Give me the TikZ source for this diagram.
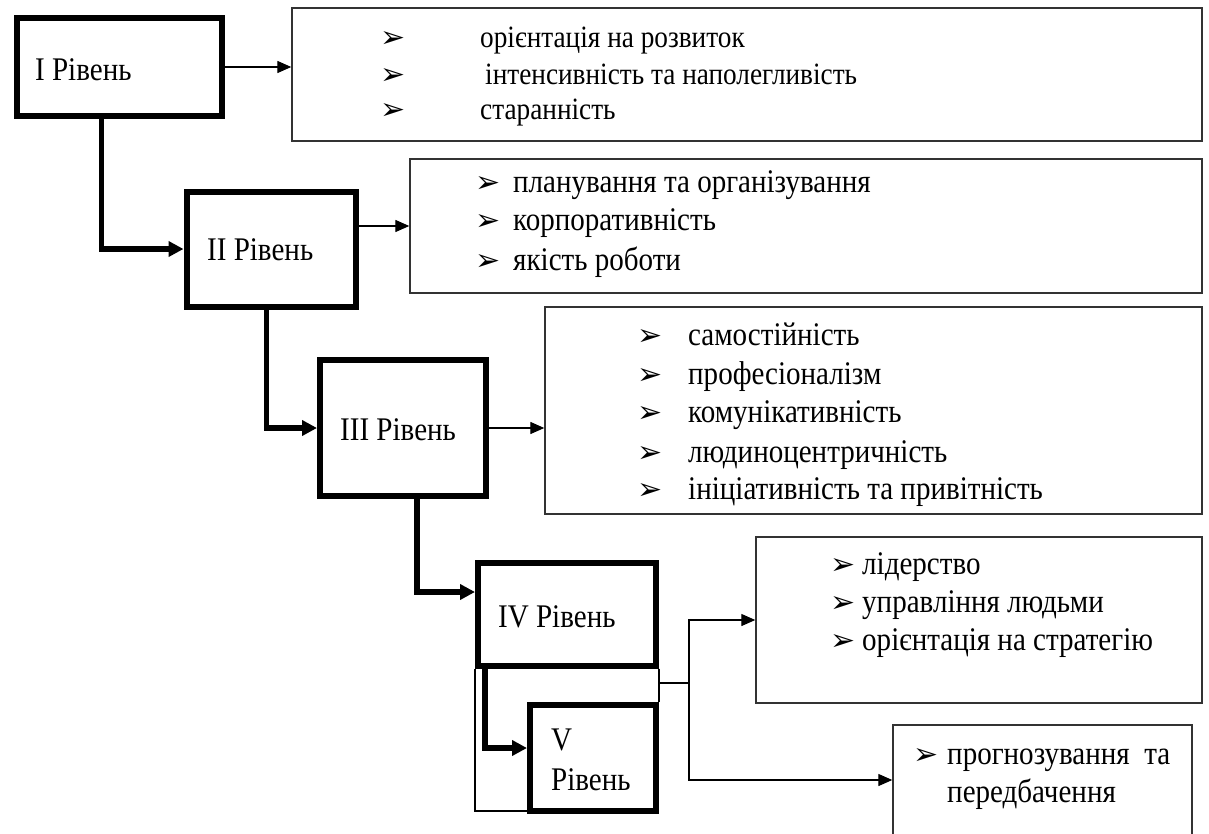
\documentclass[tikz,border=0pt]{standalone}
\usepackage{fontspec}
\setmainfont{Liberation Serif}
\newfontfamily\lvlserif{Liberation Serif}[FakeStretch=0.88]
\newfontfamily\arrowfont{DejaVu Sans}
\usetikzlibrary{arrows.meta}

\begin{document}
\begin{tikzpicture}[
    x=1pt,y=-1pt,
    every node/.style={font=\lvlserif\fontsize{33}{40}\selectfont},
    lvl/.style={draw=black, line width=6pt, inner sep=0pt},
    lst/.style={draw=black!80, line width=1.4pt, inner sep=0pt},
    lvltext/.style={anchor=base west, inner sep=0pt},
    item/.style={anchor=base west, inner sep=0pt},
    bul/.style={anchor=base west, inner sep=0pt, font=\arrowfont\fontsize{30}{30}\selectfont},
    link/.style={line width=5.5pt, -{Triangle[length=15pt,width=15pt]}},
    feed/.style={line width=1.3pt, -{Triangle[length=14pt,width=12pt]}},
    wire/.style={line width=1.3pt}
]
    \useasboundingbox (0,0) rectangle (1209,833);

    % levels
    \node[lvl, minimum width=205, minimum height=98]  (lvlI)   at (119,67)    {};
    \node[lvl, minimum width=169, minimum height=115] (lvlII)  at (271,249)   {};
    \node[lvl, minimum width=166, minimum height=136] (lvlIII) at (403,428)   {};
    \node[lvl, minimum width=178, minimum height=103] (lvlIV)  at (567,614)   {};
    \node[lvl, minimum width=126, minimum height=106] (lvlV)   at (593,758)   {};

    \node[lvltext] (tI)   at (35,80)   {І Рівень};
    \node[lvltext] (tII)  at (207,260) {ІІ Рівень};
    \node[lvltext] (tIII) at (340,440) {ІІІ Рівень};
    \node[lvltext] (tIV)  at (498,627) {IV Рівень};
    \node[lvltext, anchor=west, align=left] (tV) at (551,760) {V\\Рівень};

    % lists
    \node[lst, minimum width=910, minimum height=133] (listI)   at (747,74.5)  {};
    \node[lst, minimum width=792, minimum height=134] (listII)  at (806,226)   {};
    \node[lst, minimum width=657, minimum height=207] (listIII) at (873.5,410.5) {};
    \node[lst, minimum width=446, minimum height=166] (listIV)  at (979,620)   {};
    \node[lst, minimum width=299, minimum height=110] (listV)   at (1042.5,780) {};

    \foreach \x/\y/\t [count=\i] in {480/47/орієнтація на розвиток,
                                      485/84/інтенсивність та наполегливість,
                                      480/119/старанність} {
        \node[bul]  (bI\i) at (380,\y) {➢};
        \node[item, font=\lvlserif\fontsize{31}{40}\selectfont] (iI\i) at (\x,\y) {\t};
    }
    \foreach \y/\t [count=\i] in {192/планування та організування,
                                  230/корпоративність,
                                  270/якість роботи} {
        \node[bul]  (bII\i) at (475,\y) {➢};
        \node[item] (iII\i) at (513,\y) {\t};
    }
    \foreach \y/\t [count=\i] in {345/самостійність,
                                  384/професіоналізм,
                                  422/комунікативність,
                                  462/людиноцентричність,
                                  499/ініціативність та привітність} {
        \node[bul]  (bIII\i) at (637,\y) {➢};
        \node[item] (iIII\i) at (688,\y) {\t};
    }
    \foreach \y/\t [count=\i] in {574/лідерство,
                                  612/управління людьми,
                                  650/орієнтація на стратегію} {
        \node[bul]  (bIV\i) at (830,\y) {➢};
        \node[item] (iIV\i) at (862,\y) {\t};
    }
    \node[bul]  (bV1) at (913,764) {➢};
    \node[item] (iV1) at (947,764) {прогнозування\ \ та};
    \node[item] (iV2) at (947,802) {передбачення};

    % thick links between levels
    \draw[link] ([xshift=88pt]lvlI.south west)   |- (lvlII.west);
    \draw[link] ([xshift=83pt]lvlII.south west)  |- (lvlIII.west);
    \draw[link] ([xshift=100pt]lvlIII.south west) |- ([yshift=22pt]lvlIV.west);
    \draw[link] ([xshift=10pt]lvlIV.south west)  |- ([yshift=10pt]lvlV.west);

    % thin arrows to the lists
    \draw[feed] (lvlI.east) -- (lvlI.east -| listI.west);
    \draw[feed] (lvlII.east |- listII.west) -- (listII.west);
    \draw[feed] (lvlIII.east) -- (lvlIII.east -| listIII.west);

    \coordinate (fork) at (689,683);
    \draw[wire] (lvlIV.south west) |- ([yshift=3pt]lvlV.south west);
    \draw[wire] (lvlIV.south east) -- (lvlV.north east);
    \draw[wire] (lvlIV.south east |- fork) -- (fork);
    \draw[feed] (fork) |- (listIV.west);
    \draw[feed] (fork) |- (listV.west);
\end{tikzpicture}
\end{document}
